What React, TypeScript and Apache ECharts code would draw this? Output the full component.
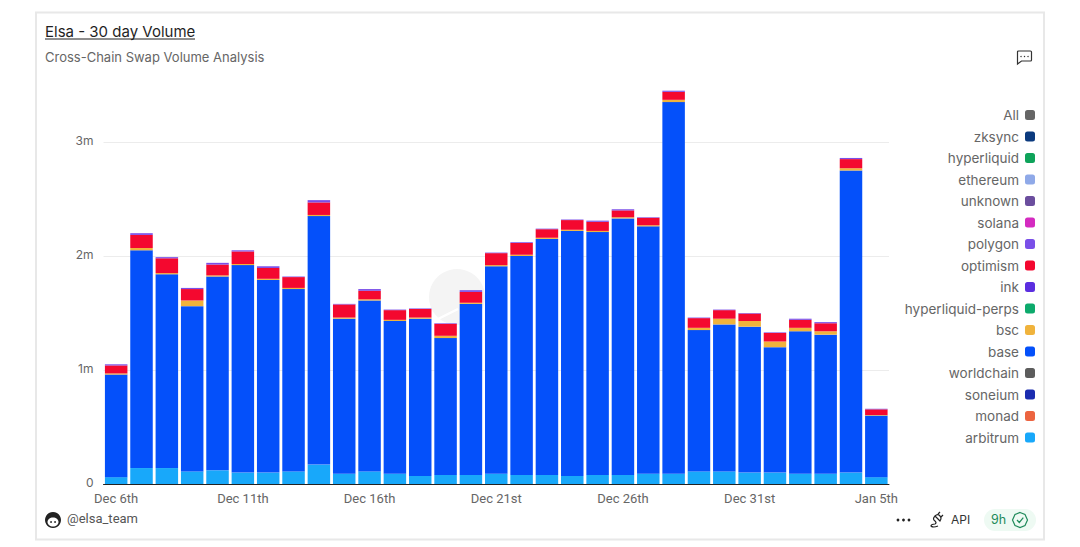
import React, { useEffect, useRef } from "react";
import * as echarts from "echarts";

const categories = [
  "Dec 6th","Dec 7th","Dec 8th","Dec 9th","Dec 10th","Dec 11th","Dec 12th","Dec 13th","Dec 14th","Dec 15th","Dec 16th",
  "Dec 17th","Dec 18th","Dec 19th","Dec 20th","Dec 21st","Dec 22nd","Dec 23rd","Dec 24th","Dec 25th","Dec 26th",
  "Dec 27th","Dec 28th","Dec 29th","Dec 30th","Dec 31st","Jan 1st","Jan 2nd","Jan 3rd","Jan 4th","Jan 5th",
];

// values in millions
const arbitrum = [.06,.14,.14,.11,.12,.10,.10,.11,.17,.09,.11,.09,.07,.08,.08,.09,.08,.08,.07,.08,.08,.09,.09,.11,.11,.10,.10,.09,.09,.10,.06];
const base = [.90,1.91,1.70,1.45,1.70,1.82,1.69,1.60,2.18,1.36,1.50,1.34,1.38,1.20,1.50,1.82,1.92,2.07,2.15,2.13,2.25,2.17,3.26,1.24,1.29,1.28,1.10,1.25,1.22,2.65,.54];
const bsc = [.01,.02,.01,.05,.01,.01,.01,.01,.01,.01,.01,.01,.01,.02,.01,.01,.01,.01,.01,.01,.01,.01,.02,.02,.05,.05,.05,.03,.03,.02,.005];
const optimism = [.07,.115,.13,.10,.095,.11,.095,.095,.11,.115,.075,.085,.075,.105,.095,.105,.105,.075,.085,.08,.06,.065,.07,.085,.075,.065,.075,.07,.07,.08,.05];
const polygon = [.01,.015,.01,.01,.015,.01,.015,.005,.02,.005,.015,.005,.005,.005,.015,.005,.005,.005,.005,.01,.01,.005,.01,.005,.005,.005,.005,.01,.01,.01,.005];
const empty: number[] = [];

const legendOrder = ["All","zksync","hyperliquid","ethereum","unknown","solana","polygon","optimism","ink","hyperliquid-perps","bsc","base","worldchain","soneium","monad","arbitrum"];
const colors: Record<string, string> = {
  All: "#666666", zksync: "#0b3a7e", hyperliquid: "#0ea35a", ethereum: "#8fa9e8", unknown: "#6b4e9e",
  solana: "#d42bc0", polygon: "#7a4fe8", optimism: "#f4082f", ink: "#5b2ee0", "hyperliquid-perps": "#0daa6c",
  bsc: "#f0b33c", base: "#0450fa", worldchain: "#5c5c5c", soneium: "#1b2cb0", monad: "#ec6440", arbitrum: "#18a8fa",
};
const seriesValues: Record<string, number[]> = { arbitrum, base, bsc, optimism, polygon };
const xTickEvery = 5;
const yTicksMillions = 1;

const FONT = "Inter, 'Noto Sans', sans-serif";
const LABEL_FONT = "Roboto, 'Noto Sans', sans-serif";

echarts.graphic.registerShape("chatIcon", echarts.graphic.extendPath(
  "M2 1L14 1Q15 1 15 2L15 10Q15 11 14 11L5 11L1 14L1 2Q1 1 2 1Z", {}) as any);
echarts.graphic.registerShape("plugIcon", echarts.graphic.extendPath(
  "M6 5L11 10Q13 7 11 5L10 4Q8 3 6 5ZM9 3L11 1M12 6L14 4M6 5Q3 8 6 10Q8 12 6 13Q2 13 2 15Q4 17 9 15", {}) as any);
echarts.graphic.registerShape("badgeIcon", echarts.graphic.extendPath(
  "M7.5 0L12.5 2L15 7.5L12.5 13L7.5 15L2.5 13L0 7.5L2.5 2ZM4.5 7.5L6.8 10L10.8 5.2", {}) as any);

export default function App() {
  const ref = useRef<HTMLDivElement>(null);
  useEffect(() => {
    document.body.style.margin = "0";
    const chart = echarts.init(ref.current!, undefined, { renderer: "svg" });
    chart.setOption({
      animation: false,
      backgroundColor: "#ffffff",
      grid: { left: 103.5, top: 85, width: 785.5, height: 399, containLabel: false },
      legend: {
        data: legendOrder,
        orient: "vertical",
        right: 40,
        top: 103,
        align: "right",
        itemWidth: 10,
        itemHeight: 10,
        itemGap: 7.5,
        icon: "roundRect",
        selectedMode: false,
        textStyle: { color: "#666666", fontSize: 13.5, fontFamily: FONT, lineHeight: 14, padding: [0, 1, 0, 0] },
      },
      xAxis: {
        type: "category",
        data: categories,
        axisLine: { lineStyle: { color: "#222222", width: 1 } },
        axisTick: { show: false },
        axisLabel: { interval: xTickEvery - 1, color: "#666666", fontSize: 13, fontFamily: LABEL_FONT, margin: 8 },
      },
      yAxis: {
        type: "value",
        min: 0,
        max: 3.5,
        interval: yTicksMillions,
        axisLine: { show: false },
        axisTick: { show: false },
        splitLine: { show: true, showMaxLine: false, lineStyle: { color: "#ececec", width: 1 } } as any,
        axisLabel: {
          showMaxLabel: false,
          color: "#666666",
          fontSize: 12,
          fontFamily: FONT,
          margin: 10,
          verticalAlign: "bottom",
          lineHeight: 4,
          formatter: (v: number) => (v === 0 ? "0" : v + "m"),
        },
      },
      series: [...legendOrder].reverse().map((name) => ({
        name,
        type: "bar",
        stack: "total",
        barWidth: 22.5,
        data: seriesValues[name] ?? empty,
        itemStyle: { color: colors[name] },
        emphasis: { disabled: true },
      })),
      color: [...legendOrder].reverse().map((n) => colors[n]),
      graphic: [
        { type: "rect", shape: { x: 36, y: 12.5, width: 1008, height: 527 }, style: { fill: "none", stroke: "#e8e8e8", lineWidth: 2 }, silent: true },
        { type: "text", x: 45, y: 24, style: { text: "Elsa - 30 day Volume", fill: "#1f1f1f", font: `400 15px ${FONT}` } },
        { type: "line", shape: { x1: 45, y1: 39, x2: 195, y2: 39 }, style: { stroke: "#1f1f1f", lineWidth: 1 } },
        { type: "text", x: 45, y: 50, style: { text: "Cross-Chain Swap Volume Analysis", fill: "#666666", font: `13px ${FONT}` } },
        { type: "chatIcon", x: 1016.5, y: 50, style: { fill: "none", stroke: "#333333", lineWidth: 1.2 } },
        { type: "circle", shape: { cx: 1021, cy: 56.5, r: 0.7 }, style: { fill: "#333" } },
        { type: "circle", shape: { cx: 1024.5, cy: 56.5, r: 0.7 }, style: { fill: "#333" } },
        { type: "circle", shape: { cx: 1028, cy: 56.5, r: 0.7 }, style: { fill: "#333" } },
        { type: "circle", shape: { cx: 457, cy: 297, r: 28 }, style: { fill: "#f4f4f4" } },
        { type: "line", shape: { x1: 436, y1: 320, x2: 458, y2: 309 }, style: { stroke: "#ffffff", lineWidth: 2.5 } },
        { type: "circle", shape: { cx: 53, cy: 520, r: 8 }, style: { fill: "#222222" } },
        { type: "ellipse", shape: { cx: 53, cy: 522, rx: 5.5, ry: 4.5 }, style: { fill: "#ffffff" } },
        { type: "circle", shape: { cx: 51, cy: 522, r: 0.9 }, style: { fill: "#222" } },
        { type: "circle", shape: { cx: 55, cy: 522, r: 0.9 }, style: { fill: "#222" } },
        { type: "text", x: 67, y: 512, style: { text: "@elsa_team", fill: "#555555", font: `13px ${LABEL_FONT}` } },
        { type: "circle", shape: { cx: 898, cy: 520, r: 1.4 }, style: { fill: "#222" } },
        { type: "circle", shape: { cx: 903.5, cy: 520, r: 1.4 }, style: { fill: "#222" } },
        { type: "circle", shape: { cx: 909, cy: 520, r: 1.4 }, style: { fill: "#222" } },
        { type: "plugIcon", x: 929, y: 511, style: { fill: "none", stroke: "#222222", lineWidth: 1.2 } },
        { type: "text", x: 951, y: 513, style: { text: "API", fill: "#333333", font: `12px ${FONT}` } },
        { type: "rect", shape: { x: 984, y: 509, width: 52, height: 22, r: 11 }, style: { fill: "#eefaf3" } },
        { type: "text", x: 991, y: 513, style: { text: "9h", fill: "#1f8a5a", font: `12.5px ${FONT}` } },
        { type: "badgeIcon", x: 1012.5, y: 512.5, style: { fill: "none", stroke: "#1f8a5a", lineWidth: 1.2 } },
      ],
    });
    return () => chart.dispose();
  }, []);
  return <div ref={ref} style={{ width: 1080, height: 547 }} />;
}
